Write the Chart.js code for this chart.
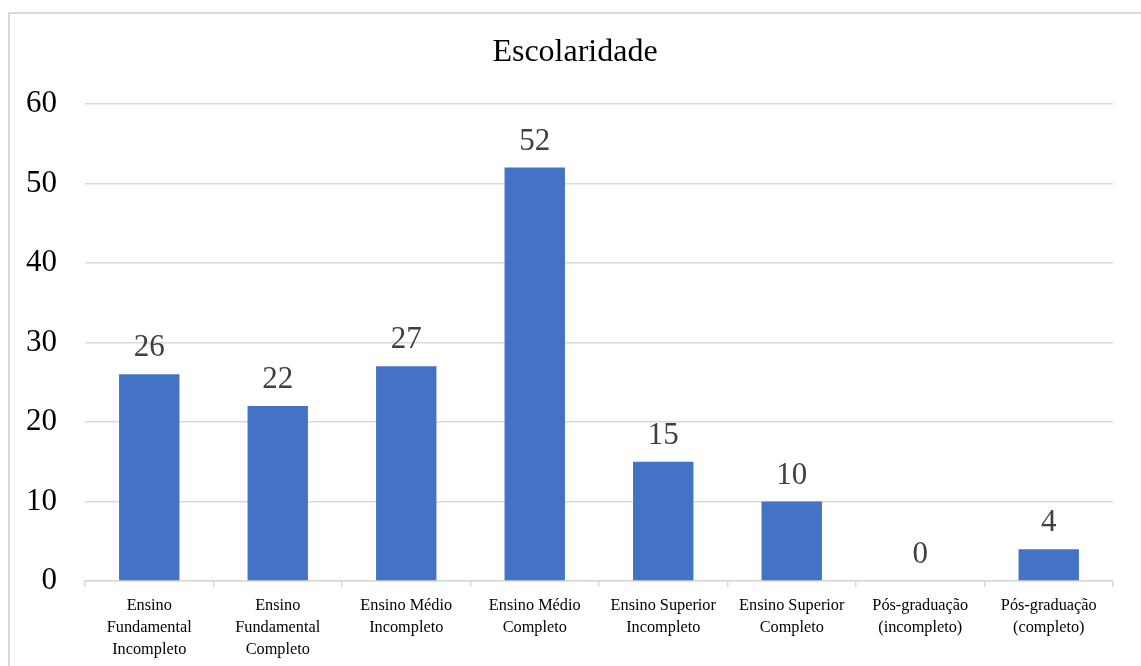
<!DOCTYPE html>
<html lang="pt">
<head>
<meta charset="utf-8">
<title>Escolaridade</title>
<script src="https://cdn.jsdelivr.net/npm/chart.js@4"></script>
<style>
  html, body { margin: 0; padding: 0; background: #fff; overflow: hidden; }
  #wrap { position: relative; width: 1141px; height: 666px; }
  #frame {
    position: absolute; left: 8px; top: 12px; right: -4px; bottom: -4px;
    border-left: 2px solid #d9d9d9; border-top: 2px solid #d9d9d9;
    pointer-events: none;
  }
  canvas { position: absolute; left: 0; top: 0; }
</style>
</head>
<body>
<div id="wrap">
  <canvas id="myChart" width="1141" height="666"></canvas>
  <div id="frame"></div>
</div>
<script>
var titulo = 'Escolaridade';
var categorias = [
    ['Ensino', 'Fundamental', 'Incompleto'],
    ['Ensino', 'Fundamental', 'Completo'],
    ['Ensino Médio', 'Incompleto'],
    ['Ensino Médio', 'Completo'],
    ['Ensino Superior', 'Incompleto'],
    ['Ensino Superior', 'Completo'],
    ['Pós-graduação', '(incompleto)'],
    ['Pós-graduação', '(completo)']
];
var quantidades = [26, 22, 27, 52, 15, 10, 0, 4];
var marcasY = [0, 10, 20, 30, 40, 50, 60];

var serif = "'Liberation Serif', 'Times New Roman', serif";

// título centralizado na moldura (que vai além da área do gráfico)
var tituloMoldura = {
    id: 'tituloMoldura',
    afterDraw: function (chart) {
        var c = chart.ctx;
        c.save();
        c.font = '32px ' + serif;
        c.fillStyle = '#000';
        c.textAlign = 'center';
        c.textBaseline = 'middle';
        c.fillText(titulo, 575, 53);
        c.restore();
    }
};

// rótulos de valor acima de cada barra
var rotulosValor = {
    id: 'rotulosValor',
    afterDatasetsDraw: function (chart) {
        var c = chart.ctx;
        var meta = chart.getDatasetMeta(0);
        c.save();
        c.font = '31px ' + serif;
        c.fillStyle = '#404040';
        c.textAlign = 'center';
        c.textBaseline = 'alphabetic';
        meta.data.forEach(function (bar, i) {
            c.fillText(String(quantidades[i]), bar.x, bar.y - 18);
        });
        c.restore();
    }
};

var ctx = document.getElementById('myChart').getContext('2d');
var myChart = new Chart(ctx, {
    type: 'bar',
    data: {
        labels: categorias,
        datasets: [{
            label: titulo,
            data: quantidades,
            backgroundColor: '#4472C4',
            borderWidth: 0,
            barPercentage: 0.47,
            categoryPercentage: 1
        }]
    },
    options: {
        responsive: false,
        animation: false,
        devicePixelRatio: 1,
        layout: { padding: { left: 8, right: 28, top: 104, bottom: 0 } },
        plugins: {
            legend: { display: false },
            tooltip: { enabled: false },
            title: { display: false }
        },
        scales: {
            x: {
                grid: {
                    offset: true,
                    drawOnChartArea: false,
                    drawTicks: true,
                    tickLength: 6,
                    color: '#d9d9d9',
                    lineWidth: 1.5
                },
                border: { display: true, color: '#d9d9d9', width: 1.5 },
                ticks: {
                    color: '#000',
                    padding: 8,
                    maxRotation: 0,
                    autoSkip: false,
                    font: { family: serif, size: 16.3, lineHeight: 1.35 }
                },
                afterFit: function (s) { s.height = 85; }
            },
            y: {
                min: 0,
                max: 60,
                afterBuildTicks: function (s) {
                    s.ticks = marcasY.map(function (v) { return { value: v }; });
                },
                grid: { color: '#d9d9d9', lineWidth: 1.5, drawTicks: false },
                border: { display: false },
                ticks: {
                    color: '#000',
                    padding: 28,
                    font: { family: serif, size: 31 }
                },
                afterFit: function (s) { s.width = 77; }
            }
        }
    },
    plugins: [rotulosValor, tituloMoldura]
});
</script>
</body>
</html>
